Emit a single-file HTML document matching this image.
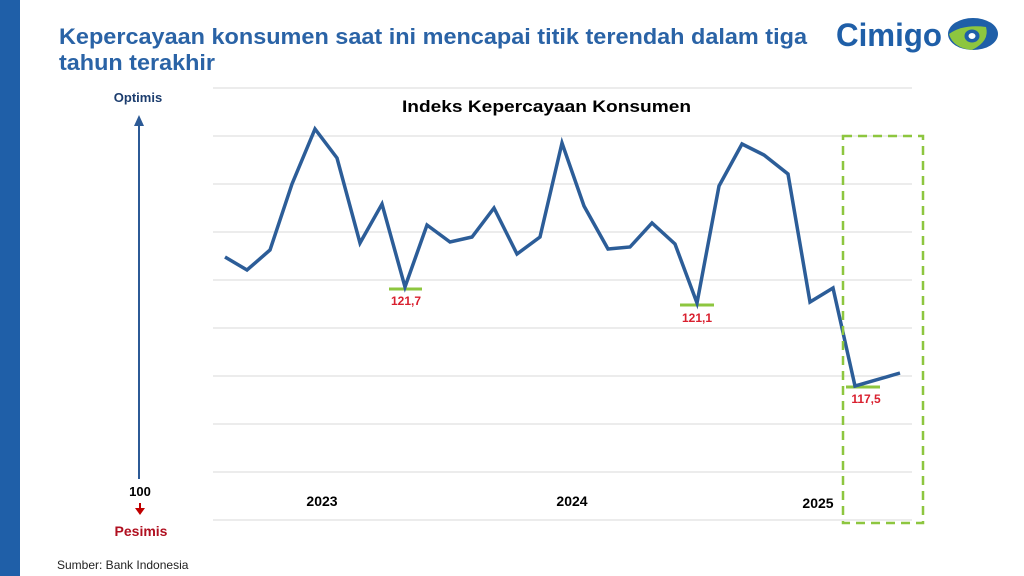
<!DOCTYPE html>
<html><head><meta charset="utf-8"><style>
html,body{margin:0;padding:0;background:#fff;}
svg{display:block;font-family:"Liberation Sans",Arial,sans-serif;}
</style></head><body>
<svg width="1024" height="576" viewBox="0 0 1024 576" xmlns="http://www.w3.org/2000/svg">
<rect x="0" y="0" width="20" height="576" fill="#1f5fa8"/>
<text x="59" y="44" font-size="22" font-weight="bold" fill="#2a63a6" textLength="748" lengthAdjust="spacingAndGlyphs">Kepercayaan konsumen saat ini mencapai titik terendah dalam tiga</text>
<text x="59" y="70" font-size="22" font-weight="bold" fill="#2a63a6" textLength="156" lengthAdjust="spacingAndGlyphs">tahun terakhir</text>
<!-- logo -->
<text x="836" y="46" font-size="32" font-weight="bold" fill="#1f5fa8" textLength="106" lengthAdjust="spacingAndGlyphs">Cimigo</text>
<ellipse cx="973" cy="34" rx="25" ry="16" fill="#1f5fa8"/>
<path d="M949 34 Q963 24 986 27 Q990 41 972 50 Q953 48 949 34Z" fill="#8dc63f"/>
<ellipse cx="972" cy="36" rx="7.5" ry="6.5" fill="#1f5fa8"/>
<ellipse cx="972" cy="36" rx="3.5" ry="3" fill="#fff"/>
<!-- grid -->
<g stroke="#d9d9d9" stroke-width="1">
<line x1="213" y1="88" x2="912" y2="88"/><line x1="213" y1="136" x2="912" y2="136"/>
<line x1="213" y1="184" x2="912" y2="184"/><line x1="213" y1="232" x2="912" y2="232"/>
<line x1="213" y1="280" x2="912" y2="280"/><line x1="213" y1="328" x2="912" y2="328"/>
<line x1="213" y1="376" x2="912" y2="376"/><line x1="213" y1="424" x2="912" y2="424"/>
<line x1="213" y1="472" x2="912" y2="472"/><line x1="213" y1="520" x2="912" y2="520"/>
</g>
<text x="402" y="112" font-size="17" font-weight="bold" fill="#000" textLength="289" lengthAdjust="spacingAndGlyphs">Indeks Kepercayaan Konsumen</text>
<!-- left axis -->
<text x="138" y="102" font-size="13" font-weight="bold" fill="#1c3d6e" text-anchor="middle">Optimis</text>
<line x1="139" y1="125" x2="139" y2="479" stroke="#2c5a96" stroke-width="2"/>
<polygon points="134,126 144,126 139,115" fill="#2c5a96"/>
<text x="140" y="496" font-size="13" font-weight="bold" fill="#000" text-anchor="middle">100</text>
<line x1="140" y1="503" x2="140" y2="509" stroke="#c00000" stroke-width="2"/>
<polygon points="135,508 145,508 140,515" fill="#c00000"/>
<text x="141" y="536" font-size="14" font-weight="bold" fill="#b01020" text-anchor="middle">Pesimis</text>
<text x="57" y="569" font-size="12" fill="#222">Sumber: Bank Indonesia</text>
<!-- years -->
<text x="322" y="506" font-size="14" font-weight="bold" fill="#000" text-anchor="middle">2023</text>
<text x="572" y="506" font-size="14" font-weight="bold" fill="#000" text-anchor="middle">2024</text>
<text x="818" y="508" font-size="14" font-weight="bold" fill="#000" text-anchor="middle">2025</text>
<!-- markers -->
<g stroke="#8dc63f" stroke-width="3">
<line x1="389" y1="289" x2="422" y2="289"/>
<line x1="680" y1="305" x2="714" y2="305"/>
<line x1="846" y1="387" x2="880" y2="387"/>
</g>
<text x="406" y="305" font-size="12" font-weight="bold" fill="#d9202f" text-anchor="middle">121,7</text>
<text x="697" y="322" font-size="12" font-weight="bold" fill="#d9202f" text-anchor="middle">121,1</text>
<text x="866" y="403" font-size="12" font-weight="bold" fill="#d9202f" text-anchor="middle">117,5</text>
<!-- line -->
<polyline fill="none" stroke="#2c5d98" stroke-width="3.5" stroke-linejoin="miter"
points="225,257 247,270 270,250 292,184 315,129 337,158 360,243 382,204 405,287 427,225 450,242 472,237 494,208 517,254 540,237 562,143 584,206 608,249 630,247 652,223 675,244 697,303 719,186 742,144 764,155 788,174 810,302 833,288 855,386 900,373"/>
<!-- dashed box -->
<rect x="843" y="136" width="80" height="387" fill="none" stroke="#8dc63f" stroke-width="2.5" stroke-dasharray="9,6"/>
</svg>
</body></html>
